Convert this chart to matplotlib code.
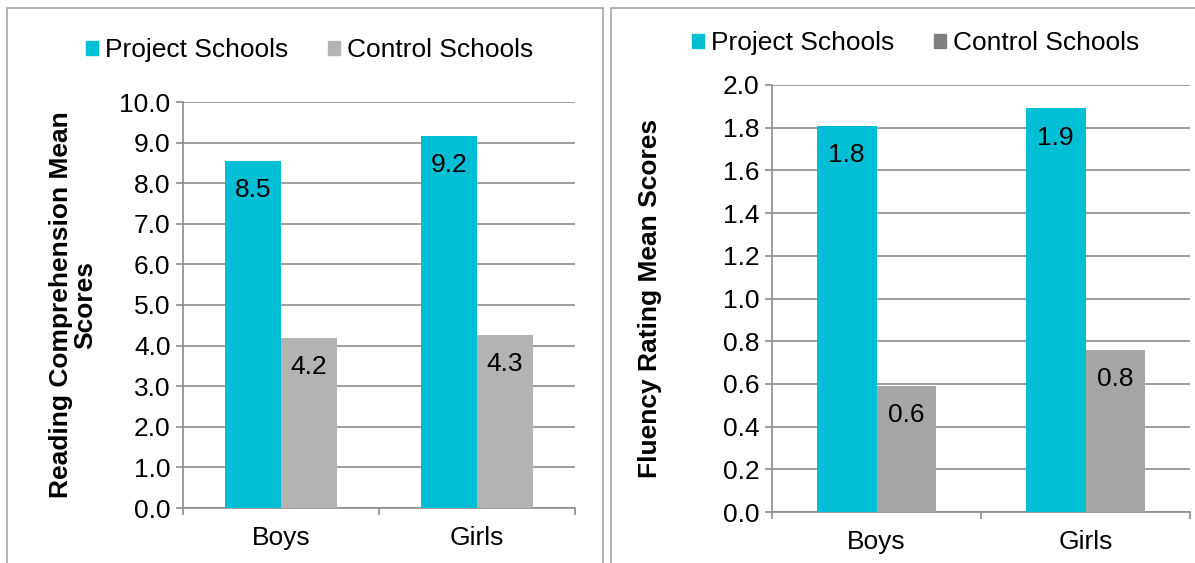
import matplotlib
matplotlib.use('Agg')
import matplotlib.pyplot as plt
from matplotlib.patches import Patch, Rectangle
import numpy

plt.rcParams['font.family'] = ['Liberation Sans', 'DejaVu Sans']

# Data
categories = ['Boys', 'Girls']
series_names = ['Project Schools', 'Control Schools']

reading_project = [8.54, 9.16]
reading_control = [4.18, 4.26]
reading_labels_project = ['8.5', '9.2']
reading_labels_control = ['4.2', '4.3']

fluency_project = [1.81, 1.89]
fluency_control = [0.59, 0.76]
fluency_labels_project = ['1.8', '1.9']
fluency_labels_control = ['0.6', '0.8']

reading_ticks = numpy.arange(0, 10.5, 1.0)
fluency_ticks = numpy.arange(0, 2.05, 0.2)

cyan = '#00BFD5'
grid_col = '#8C8C8C'
fs = 19

fig = plt.figure(figsize = (11.95, 5.63), dpi = 100)

# panel borders
fig.patches.append(Rectangle((7/1195, -0.05), (603-7)/1195, 1.05 - 8/563, transform = fig.transFigure,
                             fill = False, edgecolor = '#A6A6A6', linewidth = 1.2))
fig.patches.append(Rectangle((611/1195, -0.05), 0.5, 1.05 - 8/563, transform = fig.transFigure,
                             fill = False, edgecolor = '#A6A6A6', linewidth = 1.2))


def draw_panel(ax, proj, ctrl, lab_p, lab_c, ctrl_col, legend_ctrl_col, ticks, fmt, ylabel, leg_xy):
   x = numpy.arange(len(categories))
   w = 0.285
   b1 = ax.bar(x - w/2, proj, w, color = cyan, zorder = 3)
   b2 = ax.bar(x + w/2, ctrl, w, color = ctrl_col, zorder = 3)
   for bars, labs in [(b1, lab_p), (b2, lab_c)]:
      for r, t in zip(bars, labs):
         ax.annotate(t, (r.get_x() + r.get_width()/2, r.get_height()), xytext = (0, -21),
                     textcoords = 'offset points', ha = 'center', va = 'center', fontsize = fs, zorder = 4)
   ax.set_xlim(-0.5, len(categories) - 0.5)
   ax.set_ylim(ticks[0], ticks[-1])
   ax.set_yticks(ticks)
   ax.set_yticklabels([fmt.format(t) for t in ticks], fontsize = fs)
   ax.set_xticks(x)
   ax.set_xticklabels(categories, fontsize = fs)
   ax.set_xticks(numpy.arange(-0.5, len(categories)), minor = True)
   ax.tick_params(axis = 'x', which = 'major', length = 0, pad = 13)
   ax.tick_params(axis = 'x', which = 'minor', length = 5, width = 1.2, color = grid_col, direction = 'out')
   ax.tick_params(axis = 'y', length = 5, width = 1.2, color = grid_col, pad = 4)
   ax.grid(axis = 'y', color = grid_col, linewidth = 1.2, zorder = 0)
   ax.set_axisbelow(True)
   for s in ['top', 'right']:
      ax.spines[s].set_visible(False)
   for s in ['left', 'bottom']:
      ax.spines[s].set_color(grid_col)
      ax.spines[s].set_linewidth(1.2)
   ax.set_ylabel(ylabel, fontsize = fs, fontweight = 'bold', linespacing = 1.0)
   handles = [Patch(color = cyan), Patch(color = legend_ctrl_col)]
   ax.legend(handles, series_names, loc = 'center', bbox_to_anchor = leg_xy, bbox_transform = fig.transFigure,
             ncol = 2, frameon = False, fontsize = fs, handlelength = 0.45, handleheight = 0.45,
             handletextpad = 0.27, columnspacing = 1.5, borderpad = 0)


ax1 = fig.add_axes([183/1195, 1 - 508/563, (575-183)/1195, (508-102)/563])
draw_panel(ax1, reading_project, reading_control, reading_labels_project, reading_labels_control,
           '#B3B3B3', '#B3B3B3', reading_ticks, '{:.1f}', 'Reading Comprehension Mean\nScores',
           (310/1195, 1 - 50/563))
ax1.yaxis.set_label_coords(-0.219, 0.5)

ax2 = fig.add_axes([772/1195, 1 - 512/563, (1190-772)/1195, (512-85)/563])
draw_panel(ax2, fluency_project, fluency_control, fluency_labels_project, fluency_labels_control,
           '#A6A6A6', '#808080', fluency_ticks, '{:.1f}', 'Fluency Rating Mean Scores',
           (916/1195, 1 - 43/563))
ax2.yaxis.set_label_coords(-0.262, 0.5)

plt.savefig('out.png', dpi = 100)
